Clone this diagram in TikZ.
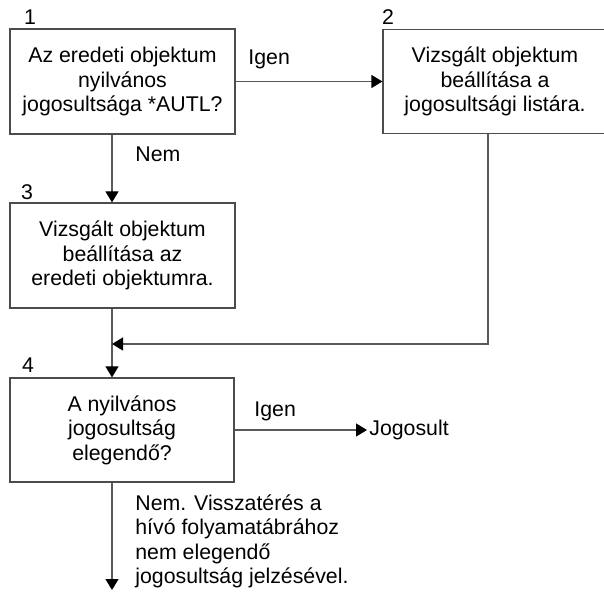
\documentclass[tikz,border=0pt]{standalone}
\usepackage{fontspec}
\setmainfont{Liberation Sans}
\usetikzlibrary{arrows.meta}

\begin{document}
\begin{tikzpicture}[x=0.5pt,y=-0.5pt,
	font=\fontsize{10.65}{12.3}\selectfont,
	box/.style={draw=black!70,line width=0.6pt,align=center,inner sep=0pt},
	link/.style={draw=black!65,line width=0.6pt,-{Triangle[length=5.5pt,width=6.5pt,color=black]}},
	lbl/.style={inner sep=0pt}]
	\useasboundingbox (0,0) rectangle (604,592);

	% Node
	\node[box,minimum width=112.5pt,minimum height=52.5pt] (b1) at (122.5,81.5) {Az eredeti objektum\\nyilvános\\jogosultsága *AUTL?};
	\node[box,minimum width=112pt,minimum height=52pt] (b2) at (495,81.5) {Vizsgált objektum\\beállítása a\\jogosultsági listára.};
	\node[box,minimum width=112.5pt,minimum height=52.5pt] (b3) at (122.5,255.5) {Vizsgált objektum\\beállítása az\\eredeti objektumra.};
	\node[box,minimum width=112pt,minimum height=52pt] (b4) at (122,430) {A nyilvános\\jogosultság\\elegendő?};
	\node[lbl,inner sep=1pt,anchor=west] (jog) at (367,430) {Jogosult};

	%Label
	\node[lbl] (n1) at (30,17) {1};
	\node[lbl] (n2) at (388,17) {2};
	\node[lbl] (n3) at (27,192) {3};
	\node[lbl] (n4) at (28,365) {4};
	\node[lbl,anchor=west] (igen1) at (248,59) {Igen};
	\node[lbl,anchor=west] (nem1) at (135,154) {Nem};
	\node[lbl,anchor=west] (igen2) at (254,411) {Igen};
	\node[lbl,anchor=north west,align=left] (nem2) at (135,494) {Nem. Visszatérés a\\hívó folyamatábrához\\nem elegendő\\jogosultság jelzésével.};

	%link
	\coordinate (spine) at (112,0);
	\coordinate (drop) at (488,0);
	\coordinate (join) at (112,344);
	\coordinate (out) at (112,590);
	\draw[link] (b1.east) -- (b2.west);
	\draw[link] (b1.south -| spine) -- (b3.north -| spine);
	\draw[link] (b3.south -| spine) -- (b4.north -| spine);
	\draw[link] (b2.south -| drop) |- (join);
	\draw[link] (b4.east) -- (jog.west);
	\draw[link] (b4.south -| spine) -- (out);

\end{tikzpicture}
\end{document}
